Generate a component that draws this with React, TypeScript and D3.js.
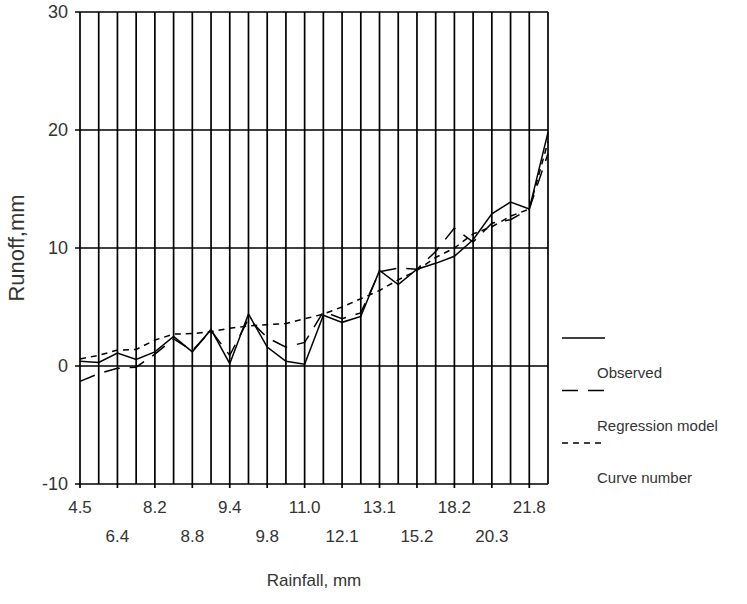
import React, { useEffect, useRef } from 'react';
import * as d3 from 'd3';

// 26 storms, rainfall labels only on every other category
const tickLabels = ['4.5', '6.4', '8.2', '8.8', '9.4', '9.8', '11.0', '12.1', '13.1', '15.2', '18.2', '20.3', '21.8'];
const observed = [0.4, 0.3, 1.1, 0.55, 1.2, 2.5, 1.2, 3.1, 0.2, 4.4, 1.6, 0.4, 0.15, 4.3, 3.7, 4.2, 8.1, 6.9, 8.2, 8.7, 9.3, 10.7, 12.9, 13.9, 13.3, 19.8];
const regression = [-1.3, -0.65, -0.2, -0.1, 1.0, 2.3, 1.3, 3.0, 0.9, 4.0, 2.4, 1.6, 2.0, 4.6, 4.0, 4.5, 8.0, 8.3, 8.2, 9.7, 11.7, 10.5, 12.1, 12.4, 13.3, 18.0];
const curveNumber = [0.6, 0.9, 1.35, 1.4, 2.2, 2.7, 2.75, 2.9, 3.2, 3.4, 3.5, 3.6, 4.0, 4.4, 5.0, 5.7, 6.4, 7.3, 8.1, 9.2, 10.0, 11.2, 11.8, 12.7, 13.3, 19.0];
const yTicks = [-10, 0, 10, 20, 30];
const seriesNames = ['Observed', 'Regression model', 'Curve number'];
const dashes = ['none', '16,10', '6,5'];

const font = 'Liberation Sans, Arial, sans-serif';
const textColor = '#333';

export default function App() {
  const ref = useRef<SVGSVGElement>(null);

  useEffect(() => {
    const svg = d3.select(ref.current);
    svg.selectAll('*').remove();

    const left = 80, right = 548, top = 12, bottom = 484;
    const idx = d3.range(observed.length);
    const x = d3.scalePoint<number>().domain(idx).range([left, right]);
    const y = d3.scaleLinear().domain([-10, 30]).range([bottom, top]);

    const g = svg.append('g');

    // vertical grid, one per category
    g.selectAll('line.v')
      .data(idx)
      .enter()
      .append('line')
      .attr('x1', d => x(d)!)
      .attr('x2', d => x(d)!)
      .attr('y1', top)
      .attr('y2', d => (d % 2 === 0 ? bottom + 4 : bottom))
      .attr('stroke', '#000')
      .attr('stroke-width', 1.7);

    // horizontal grid
    g.selectAll('line.h')
      .data(yTicks)
      .enter()
      .append('line')
      .attr('x1', left - 5)
      .attr('x2', right)
      .attr('y1', d => y(d))
      .attr('y2', d => y(d))
      .attr('stroke', '#000')
      .attr('stroke-width', 1.7);

    // y labels
    g.selectAll('text.y')
      .data(yTicks)
      .enter()
      .append('text')
      .attr('x', 68)
      .attr('y', d => y(d) + 6)
      .attr('text-anchor', 'end')
      .attr('font-size', 18)
      .attr('font-family', font)
      .attr('fill', textColor)
      .text(d => d);

    // x labels, staggered on two rows
    g.selectAll('text.x')
      .data(tickLabels)
      .enter()
      .append('text')
      .attr('x', (d, i) => x(i * 2)!)
      .attr('y', (d, i) => (i % 2 === 0 ? 513 : 542))
      .attr('text-anchor', 'middle')
      .attr('font-size', 17)
      .attr('font-family', font)
      .attr('fill', textColor)
      .text(d => d);

    // series
    const line = d3.line<number>()
      .x((d, i) => x(i)!)
      .y(d => y(d));
    [observed, regression, curveNumber].forEach((s, k) => {
      g.append('path')
        .attr('d', line(s))
        .attr('fill', 'none')
        .attr('stroke', '#000')
        .attr('stroke-width', 1.5)
        .attr('stroke-dasharray', dashes[k]);
    });

    // legend
    const lg = svg.append('g').attr('transform', 'translate(562,338)');
    seriesNames.forEach((name, k) => {
      lg.append('line')
        .attr('x1', 0)
        .attr('x2', 43)
        .attr('y1', k * 52.5)
        .attr('y2', k * 52.5)
        .attr('stroke', '#000')
        .attr('stroke-width', 1.5)
        .attr('stroke-dasharray', dashes[k]);
      lg.append('text')
        .attr('x', 35)
        .attr('y', k * 52.5 + 40)
        .attr('font-size', 15)
        .attr('font-family', font)
        .attr('fill', textColor)
        .text(name);
    });

    // axis titles
    svg.append('text')
      .attr('transform', 'translate(24,248) rotate(-90)')
      .attr('text-anchor', 'middle')
      .attr('font-size', 22)
      .attr('font-family', font)
      .attr('fill', textColor)
      .text('Runoff,mm');
    svg.append('text')
      .attr('x', 314)
      .attr('y', 586)
      .attr('text-anchor', 'middle')
      .attr('font-size', 17)
      .attr('font-family', font)
      .attr('fill', textColor)
      .text('Rainfall, mm');
  }, []);

  return (
    <svg ref={ref} width={747} height={604} style={{ position: 'absolute', left: 0, top: 0, background: '#fff' }} />
  );
}
